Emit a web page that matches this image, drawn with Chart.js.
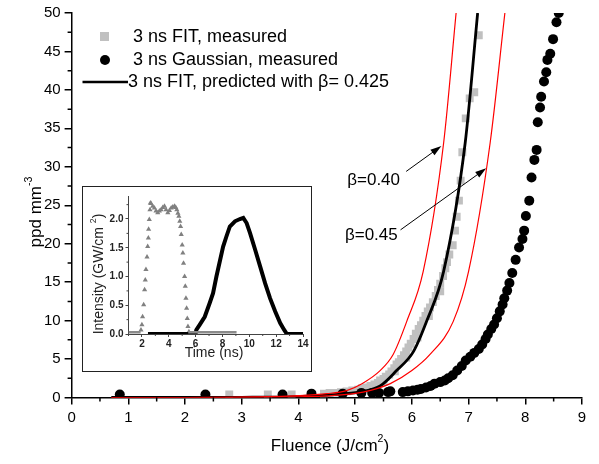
<!DOCTYPE html>
<html>
<head>
<meta charset="utf-8">
<script src="https://cdn.jsdelivr.net/npm/chart.js@4.4.0/dist/chart.umd.min.js"></script>
<style>
  body { margin: 0; background: #fff; }
  #wrap { position: relative; width: 599px; height: 464px; }
  #inset { position: absolute; left: 82px; top: 186px; width: 228px; height: 184px; border: 1.5px solid #222; background: #fff; }
</style>
</head>
<body>
<div id="wrap">
  <canvas id="mainChart" width="599" height="464"></canvas>
  <div id="inset"><canvas id="insetChart" width="228" height="184"></canvas></div>
</div>
<script>
// main plot: fluence (J/cm2) vs ppd mm^-3
const fitMeasured = [
  [2.78, 0.4], [3.46, 0.4], [3.88, 0.4], [4.45, 0.5], [4.55, 0.6], [4.65, 0.6], [4.75, 0.7],
  [4.85, 0.8], [4.95, 0.9], [5.05, 1.0], [5.12, 1.2], [5.2, 1.3], [5.27, 1.5], [5.34, 1.7],
  [5.4, 1.9], [5.44, 2.2], [5.5, 2.4], [5.54, 2.7], [5.6, 3.0], [5.64, 3.4], [5.69, 3.8],
  [5.73, 4.3], [5.77, 4.6], [5.81, 5.0], [5.86, 5.5], [5.9, 6.0], [5.94, 6.5], [5.98, 7.0],
  [6.03, 7.6], [6.07, 8.3], [6.12, 8.9], [6.16, 9.4], [6.2, 10.0], [6.24, 10.6], [6.28, 11.2],
  [6.32, 11.7], [6.37, 12.4], [6.42, 13.2], [6.46, 14.0], [6.5, 14.8], [6.55, 15.8],
  [6.59, 16.8], [6.62, 17.6], [6.66, 18.6], [5.5, 2.0], [5.7, 3.4], [5.9, 5.2], [6.1, 7.8],
  [6.3, 10.6], [6.5, 13.8], [6.72, 19.8], [6.76, 21.7], [6.79, 23.5], [6.83, 25.6],
  [6.86, 28.2], [6.89, 31.9], [6.95, 36.3], [7.02, 38.9], [7.1, 39.7], [7.18, 47.1]
];
const gaussMeasured = [
  [0.85, 0.4], [2.36, 0.4], [3.72, 0.4], [4.23, 0.5], [4.78, 0.5], [5.11, 0.6], [5.3, 0.6],
  [5.42, 0.6], [5.58, 0.7], [5.62, 0.8], [5.84, 0.7], [5.93, 0.8], [6.02, 0.9], [6.1, 1.0],
  [6.16, 1.1], [6.25, 1.3], [6.33, 1.5], [6.4, 1.8], [6.5, 2.0], [6.58, 2.2], [6.64, 2.5],
  [6.72, 2.9], [6.8, 3.5], [6.88, 4.1], [6.95, 4.8], [7.03, 5.3], [7.1, 5.8], [7.18, 6.3],
  [7.24, 6.9], [7.3, 7.6], [7.34, 8.2], [7.4, 8.9], [7.45, 9.5], [7.5, 10.3], [7.55, 11.2],
  [7.6, 12.1], [7.63, 12.9], [7.68, 13.9], [7.72, 14.9], [7.77, 16.2], [7.83, 17.9],
  [7.89, 19.5], [7.95, 20.6], [7.98, 21.7], [8.01, 23.6], [8.07, 25.6], [8.11, 28.6],
  [8.16, 30.9], [8.2, 32.2], [8.22, 35.8], [8.26, 37.7], [8.28, 39.1], [8.33, 41.1],
  [8.37, 42.3], [8.39, 43.9], [8.44, 44.7], [8.49, 46.6], [8.55, 48.8], [8.59, 50.0]
];
const predicted = [
  [0.7, 0], [2, 0], [3, 0.02], [4, 0.12], [4.5, 0.3], [5.14, 0.8], [5.44, 1.5], [5.73, 3.5],
  [6.03, 6.0], [6.26, 9.9], [6.56, 16.4], [6.94, 33.1], [7.16, 50]
];
const beta40 = [
  [0.7, 0], [2, 0], [3, 0.05], [4, 0.25], [4.5, 0.5], [4.85, 0.9], [5.12, 1.8], [5.44, 3.5],
  [5.67, 5.6], [5.91, 9.9], [6.2, 16.4], [6.56, 33.1], [6.78, 50]
];
const beta45 = [
  [0.7, 0], [2, 0], [3, 0.02], [4, 0.1], [4.5, 0.2], [5.14, 0.7], [5.62, 1.8], [6.0, 3.5],
  [6.32, 5.6], [6.73, 9.9], [7.0, 16.4], [7.38, 33.1], [7.64, 50]
];

// inset: pulse shapes, time (ns) vs intensity (GW/cm2)
const fitPulse = [
  [1.93, 0.07], [2.0, 0.16], [2.05, 0.3], [2.13, 0.51], [2.2, 0.77], [2.25, 0.94], [2.3, 1.12],
  [2.38, 1.34], [2.43, 1.52], [2.48, 1.67], [2.5, 1.82], [2.55, 1.99], [2.6, 2.16], [2.63, 2.28],
  [2.68, 2.27], [2.8, 2.22], [2.93, 2.19], [3.05, 2.14], [3.18, 2.11], [3.3, 2.14], [3.43, 2.16],
  [3.55, 2.2], [3.68, 2.22], [3.8, 2.16], [3.93, 2.11], [4.05, 2.15], [4.18, 2.19], [4.3, 2.21],
  [4.43, 2.22], [4.52, 2.2], [4.6, 2.16], [4.68, 2.1], [4.75, 2.05], [4.82, 1.96], [4.88, 1.87],
  [4.93, 1.73], [5.0, 1.55], [5.05, 1.41], [5.1, 1.23], [5.18, 1.0], [5.23, 0.83], [5.28, 0.62],
  [5.33, 0.45], [5.38, 0.27], [5.43, 0.13], [5.5, 0.04]
];
const fitBase = [[1.0, 0.03], [1.9, 0.03], [3.5, null], [5.45, 0.03], [9.05, 0.03]];
const gaussPulse = [
  [2.45, 0], [6.0, 0], [6.05, 0.07], [6.3, 0.16], [6.68, 0.3], [7.05, 0.54], [7.3, 0.71],
  [7.55, 1.0], [7.8, 1.26], [8.05, 1.52], [8.3, 1.7], [8.55, 1.87], [8.93, 1.96], [9.3, 2.0],
  [9.55, 2.02], [9.8, 1.93], [10.05, 1.76], [10.43, 1.47], [10.8, 1.18], [11.18, 0.88],
  [11.55, 0.62], [11.93, 0.39], [12.3, 0.19], [12.6, 0.07], [12.8, 0], [14, 0]
];

// arrows and labels, in data units
const arrows = [[5.9, 29.4, 6.52, 32.7], [5.8, 21.8, 7.31, 29.8]];
const betaLabels = [['β=0.40', 4.86, 28.2], ['β=0.45', 4.82, 21.1]];

const pts = arr => arr.map(p => ({ x: p[0], y: p[1] }));
const FONT = 'Liberation Sans, Arial, sans-serif';

function supText(ctx, parts, cx, cy, size) {
  // parts: [text, isSup]
  let w = 0;
  parts.forEach(p => { ctx.font = (p[1] ? size * 0.62 : size) + 'px ' + FONT; w += ctx.measureText(p[0]).width; });
  let xx = cx - w / 2;
  ctx.textBaseline = 'middle';
  ctx.textAlign = 'left';
  parts.forEach(p => {
    ctx.font = (p[1] ? size * 0.62 : size) + 'px ' + FONT;
    ctx.fillText(p[0], xx, p[1] ? cy - size * 0.42 : cy);
    xx += ctx.measureText(p[0]).width;
  });
}

const mainExtras = {
  id: 'mainExtras',
  afterDraw(chart) {
    const { ctx, chartArea: a, scales: { x, y } } = chart;
    ctx.save();
    ctx.strokeStyle = '#000';
    ctx.lineWidth = 1.5;
    ctx.beginPath();
    for (let v = 0.5; v < 9; v += 1) {
      const px = x.getPixelForValue(v);
      ctx.moveTo(px, a.bottom); ctx.lineTo(px, a.bottom + 4);
    }
    for (let v = 2.5; v < 50; v += 5) {
      const py = y.getPixelForValue(v);
      ctx.moveTo(a.left, py); ctx.lineTo(a.left - 4, py);
    }
    ctx.stroke();

    // arrows
    ctx.lineWidth = 1;
    ctx.fillStyle = '#000';
    arrows.forEach(ar => {
      const x1 = x.getPixelForValue(ar[0]), y1 = y.getPixelForValue(ar[1]);
      const x2 = x.getPixelForValue(ar[2]), y2 = y.getPixelForValue(ar[3]);
      const ang = Math.atan2(y2 - y1, x2 - x1);
      ctx.beginPath(); ctx.moveTo(x1, y1); ctx.lineTo(x2 - 8 * Math.cos(ang), y2 - 8 * Math.sin(ang)); ctx.stroke();
      ctx.beginPath();
      ctx.moveTo(x2, y2);
      ctx.lineTo(x2 - 11 * Math.cos(ang) + 3.5 * Math.sin(ang), y2 - 11 * Math.sin(ang) - 3.5 * Math.cos(ang));
      ctx.lineTo(x2 - 11 * Math.cos(ang) - 3.5 * Math.sin(ang), y2 - 11 * Math.sin(ang) + 3.5 * Math.cos(ang));
      ctx.closePath(); ctx.fill();
    });
    ctx.font = '17px ' + FONT;
    ctx.textAlign = 'left';
    ctx.textBaseline = 'middle';
    betaLabels.forEach(b => ctx.fillText(b[0], x.getPixelForValue(b[1]), y.getPixelForValue(b[2])));

    // legend
    ctx.fillStyle = '#c0c0c0';
    ctx.fillRect(100, 32, 9, 9);
    ctx.fillStyle = '#000';
    ctx.beginPath(); ctx.arc(105, 60, 5, 0, Math.PI * 2); ctx.fill();
    ctx.lineWidth = 2.5;
    ctx.beginPath(); ctx.moveTo(82.5, 82); ctx.lineTo(128, 82); ctx.stroke();
    ctx.font = '18px ' + FONT;
    ctx.fillText('3 ns FIT, measured', 133, 37);
    ctx.fillText('3 ns Gaussian, measured', 133, 60);
    ctx.fillText('3 ns FIT, predicted with β= 0.425', 128, 82);

    // axis titles
    supText(ctx, [['Fluence (J/cm', false], ['2', true], [')', false]], 330, 446, 17);
    ctx.translate(36, 212);
    ctx.rotate(-Math.PI / 2);
    supText(ctx, [['ppd mm', false], ['-3', true]], 0, 0, 17);
    ctx.restore();
  }
};

new Chart(document.getElementById('mainChart'), {
  type: 'scatter',
  data: {
    datasets: [
      { data: pts(beta40), showLine: true, borderColor: '#ff0000', borderWidth: 1.2, pointRadius: 0, cubicInterpolationMode: 'monotone', order: 0 },
      { data: pts(beta45), showLine: true, borderColor: '#ff0000', borderWidth: 1.2, pointRadius: 0, cubicInterpolationMode: 'monotone', order: 1 },
      { data: pts(predicted), showLine: true, borderColor: '#000', borderWidth: 2.8, pointRadius: 0, cubicInterpolationMode: 'monotone', order: 2 },
      { data: pts(gaussMeasured), pointStyle: 'circle', pointRadius: 5, backgroundColor: '#000', borderWidth: 0, order: 3 },
      { data: pts(fitMeasured), pointStyle: 'rect', pointRadius: 5.6, backgroundColor: '#c0c0c0', borderWidth: 0, order: 4 }
    ]
  },
  options: {
    responsive: false,
    animation: false,
    devicePixelRatio: 1,
    layout: { padding: { top: 9, right: 17, left: 0, bottom: 0 } },
    plugins: { legend: { display: false }, tooltip: { enabled: false } },
    scales: {
      x: {
        type: 'linear', min: 0, max: 9,
        afterFit: s => { s.height = 66.5; },
        ticks: { stepSize: 1, color: '#000', padding: 4, font: { family: FONT, size: 15 } },
        grid: { drawOnChartArea: false, drawTicks: true, tickLength: 7, color: '#000', lineWidth: 1.5 },
        border: { color: '#000', width: 1.5 }
      },
      y: {
        type: 'linear', min: 0, max: 50,
        afterFit: s => { s.width = 71.6; },
        ticks: { stepSize: 5, color: '#000', padding: 4, font: { family: FONT, size: 15 } },
        grid: { drawOnChartArea: false, drawTicks: true, tickLength: 7, color: '#000', lineWidth: 1.5 },
        border: { color: '#000', width: 1.5 }
      }
    }
  },
  plugins: [mainExtras]
});

const insetExtras = {
  id: 'insetExtras',
  afterDraw(chart) {
    const { ctx, chartArea: a, scales: { x, y } } = chart;
    ctx.save();
    ctx.strokeStyle = '#444';
    ctx.lineWidth = 1;
    ctx.beginPath();
    for (let v = 1; v <= 13; v += 2) {
      const px = x.getPixelForValue(v);
      ctx.moveTo(px, a.bottom); ctx.lineTo(px, a.bottom + 2);
    }
    for (let v = 0.25; v < 2.4; v += 0.5) {
      const py = y.getPixelForValue(v);
      ctx.moveTo(a.left, py); ctx.lineTo(a.left - 2, py);
    }
    ctx.stroke();
    ctx.fillStyle = '#222';
    supText(ctx, [['Time (ns)', false]], 131, 166, 14);
    ctx.translate(16, 87);
    ctx.rotate(-Math.PI / 2);
    supText(ctx, [['Intensity (GW/cm ', false], ['2', true], [')', false]], 0, 0, 14);
    ctx.restore();
  }
};

new Chart(document.getElementById('insetChart'), {
  type: 'scatter',
  data: {
    datasets: [
      { data: pts(fitBase), showLine: true, spanGaps: false, borderColor: '#8a8a8a', borderWidth: 2.5, pointRadius: 0, order: 0 },
      { data: pts(gaussPulse), showLine: true, borderColor: '#000', borderWidth: 4, pointRadius: 0, order: 1 },
      { data: pts(fitPulse), pointStyle: 'triangle', pointRadius: 3, backgroundColor: '#808080', borderWidth: 0, order: 2 }
    ]
  },
  options: {
    responsive: false,
    animation: false,
    devicePixelRatio: 1,
    layout: { padding: { top: 9, right: 8, left: 0, bottom: 0 } },
    plugins: { legend: { display: false }, tooltip: { enabled: false } },
    scales: {
      x: {
        type: 'linear', min: 1, max: 14,
        afterFit: s => { s.height = 37; },
        ticks: { stepSize: 2, includeBounds: false, color: '#222', padding: 1, font: { family: FONT, size: 10, weight: 'bold' } },
        grid: { drawOnChartArea: false, drawTicks: true, tickLength: 3, color: '#444', lineWidth: 1 },
        border: { color: '#444', width: 1 }
      },
      y: {
        type: 'linear', min: 0, max: 2.4,
        afterFit: s => { s.width = 45.5; },
        ticks: { stepSize: 0.5, includeBounds: false, color: '#222', padding: 2, font: { family: FONT, size: 10, weight: 'bold' },
          callback: v => v.toFixed(1) },
        grid: { drawOnChartArea: false, drawTicks: true, tickLength: 3, color: '#444', lineWidth: 1 },
        border: { color: '#444', width: 1 }
      }
    }
  },
  plugins: [insetExtras]
});
</script>
</body>
</html>
